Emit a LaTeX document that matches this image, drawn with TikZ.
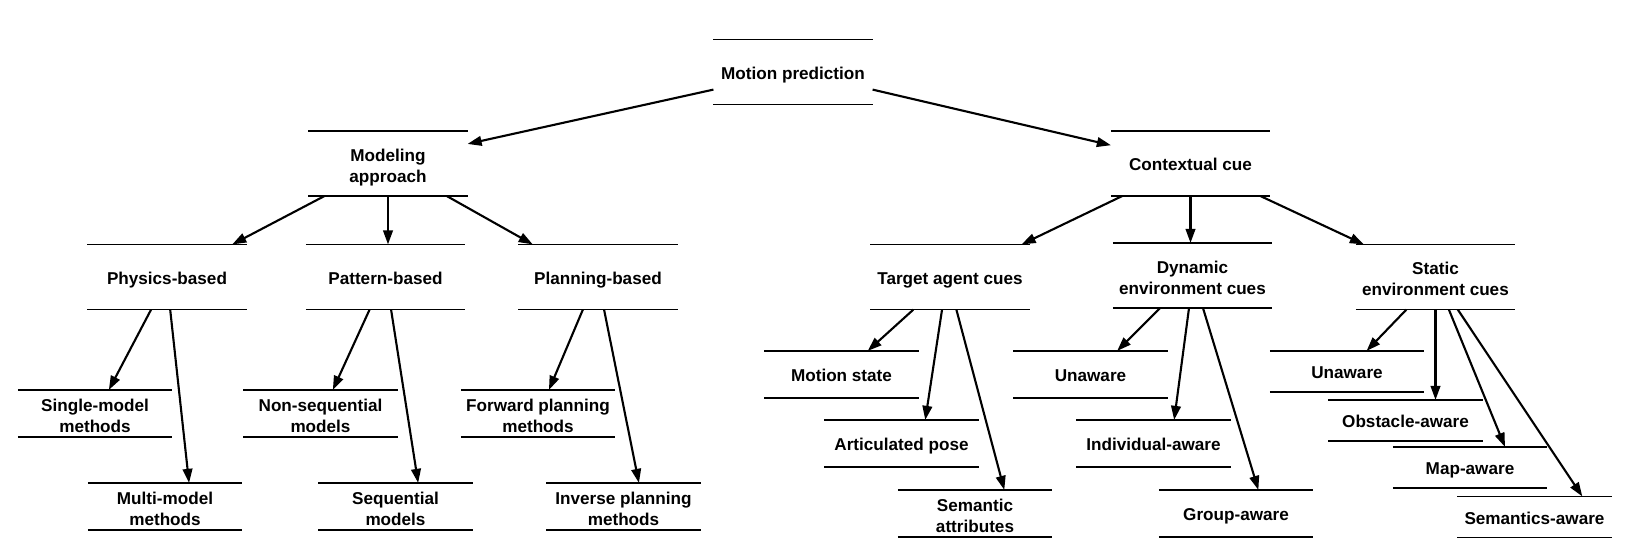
\documentclass[tikz,border=0pt]{standalone}
\usepackage{fontspec}
\setmainfont{Liberation Sans}
\usetikzlibrary{arrows.meta,calc}

\begin{document}
\begin{tikzpicture}[x=0.02cm, y=-0.02cm,
    every node/.style={inner sep=0pt, align=center, font=\fontsize{9.75}{11.9}\selectfont\bfseries,
        execute at begin node={\rule{0pt}{10.5pt}}, execute at end node={\rule[-2.2pt]{0pt}{2.2pt}}},
    two/.style={execute at begin node={\rule{0pt}{23.3pt}}},
    big/.style={minimum width=3.17cm, minimum height=1.29cm},
    leaf/.style={minimum width=3.07cm, minimum height=0.93cm},
    small/.style={minimum width=3.07cm, minimum height=0.81cm},
    arr/.style={-{Triangle[length=8pt,width=5.5pt]}, line width=1.2pt}]
    \useasboundingbox (0,0) rectangle (1643,551);

    % top levels
    \node[big] (mp) at (793,72) {Motion prediction};
    \node[big,two] (ma) at (388,163.5) {Modeling\\approach};
    \node[big] (cc) at (1190.5,163.5) {Contextual cue};
    \node[big] (phys) at (167,277) {Physics-based};
    \node[big] (patt) at (385.5,277) {Pattern-based};
    \node[big] (plan) at (598,277) {Planning-based};
    \node[big] (tac) at (950,277) {Target agent cues};
    \node[big,two] (dec) at (1192.5,275.5) {Dynamic\\environment cues};
    \node[big,two] (sec) at (1435.5,277) {Static\\environment cues};

    % leaves
    \node[leaf,two] (single) at (95,413.5) {Single-model\\methods};
    \node[leaf,two] (multi) at (165,506.5) {Multi-model\\methods};
    \node[leaf,two] (nonseq) at (320.5,413.5) {Non-sequential\\models};
    \node[leaf,two] (seq) at (395.5,506.5) {Sequential\\models};
    \node[leaf,two] (fwd) at (538,413.5) {Forward planning\\methods};
    \node[leaf,two] (inv) at (623.5,506.5) {Inverse planning\\methods};
    \node[leaf] (mstate) at (841.5,374.5) {Motion state};
    \node[leaf] (artic) at (901.5,443.5) {Articulated pose};
    \node[leaf,two] (semattr) at (975,513.5) {Semantic\\attributes};
    \node[leaf] (dunaw) at (1090.5,374.5) {Unaware};
    \node[leaf] (indiv) at (1153.5,443.5) {Individual-aware};
    \node[leaf] (group) at (1236,513.5) {Group-aware};
    \node[small] (sunaw) at (1347,371.5) {Unaware};
    \node[small] (obst) at (1405.5,420.5) {Obstacle-aware};
    \node[small] (map) at (1470,467.5) {Map-aware};
    \node[small] (semaw) at (1534.5,517) {Semantics-aware};

    \foreach \n in {mp,ma,cc,phys,patt,plan,tac,dec,sec,single,multi,nonseq,seq,fwd,inv,
                    mstate,artic,semattr,dunaw,indiv,group,sunaw,obst,map,semaw}
        \draw[line width=0.9pt] (\n.north west) -- (\n.north east) (\n.south west) -- (\n.south east);

    % arrows
    \draw[arr] ($(mp.north west)!0.77!(mp.south west)$) -- ($(ma.north east)!0.2!(ma.south east)$);
    \draw[arr] ($(mp.north east)!0.77!(mp.south east)$) -- ($(cc.north west)!0.22!(cc.south west)$);

    \draw[arr] ($(ma.south west)!0.1!(ma.south east)$) -- ($(phys.north west)!0.91!(phys.north east)$);
    \draw[arr] (ma.south) -- (ma.south |- patt.north);
    \draw[arr] ($(ma.south west)!0.87!(ma.south east)$) -- ($(plan.north west)!0.09!(plan.north east)$);
    \draw[arr] ($(cc.south west)!0.07!(cc.south east)$) -- ($(tac.north west)!0.95!(tac.north east)$);
    \draw[arr] (cc.south) -- (cc.south |- dec.north);
    \draw[arr] ($(cc.south west)!0.94!(cc.south east)$) -- ($(sec.north west)!0.05!(sec.north east)$);

    \draw[arr] ($(phys.south west)!0.4!(phys.south east)$) -- ($(single.north west)!0.59!(single.north east)$);
    \draw[arr] ($(phys.south west)!0.52!(phys.south east)$) -- ($(multi.north west)!0.656!(multi.north east)$);
    \draw[arr] ($(patt.south west)!0.4!(patt.south east)$) -- ($(nonseq.north west)!0.58!(nonseq.north east)$);
    \draw[arr] ($(patt.south west)!0.535!(patt.south east)$) -- ($(seq.north west)!0.647!(seq.north east)$);
    \draw[arr] ($(plan.south west)!0.405!(plan.south east)$) -- ($(fwd.north west)!0.571!(fwd.north east)$);
    \draw[arr] ($(plan.south west)!0.538!(plan.south east)$) -- ($(inv.north west)!0.6!(inv.north east)$);

    \draw[arr] ($(tac.south west)!0.27!(tac.south east)$) -- ($(mstate.north west)!0.67!(mstate.north east)$);
    \draw[arr] ($(tac.south west)!0.45!(tac.south east)$) -- ($(artic.north west)!0.654!(artic.north east)$);
    \draw[arr] ($(tac.south west)!0.54!(tac.south east)$) -- ($(semattr.north west)!0.69!(semattr.north east)$);
    \draw[arr] ($(dec.south west)!0.296!(dec.south east)$) -- ($(dunaw.north west)!0.673!(dunaw.north east)$);
    \draw[arr] ($(dec.south west)!0.478!(dec.south east)$) -- ($(indiv.north west)!0.634!(indiv.north east)$);
    \draw[arr] ($(dec.south west)!0.566!(dec.south east)$) -- ($(group.north west)!0.645!(group.north east)$);
    \draw[arr] ($(sec.south west)!0.317!(sec.south east)$) -- ($(sunaw.north west)!0.627!(sunaw.north east)$);
    \draw[arr] (sec.south) -- (sec.south |- obst.north);
    \draw[arr] ($(sec.south west)!0.584!(sec.south east)$) -- ($(map.north west)!0.727!(map.north east)$);
    \draw[arr] ($(sec.south west)!0.64!(sec.south east)$) -- ($(semaw.north west)!0.81!(semaw.north east)$);
\end{tikzpicture}
\end{document}
